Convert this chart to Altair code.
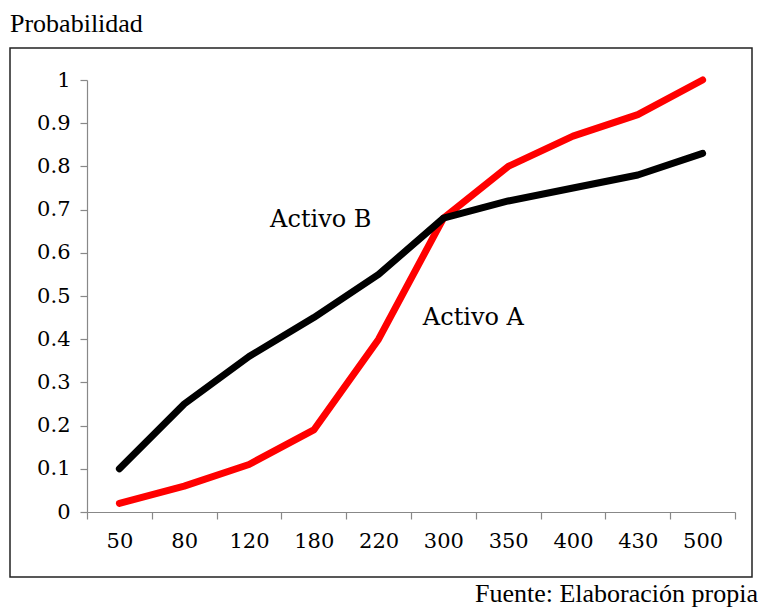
import altair as alt
import pandas as pd

categories = ["50", "80", "120", "180", "220", "300", "350", "400", "430", "500"]
activo_a = [0.02, 0.06, 0.11, 0.19, 0.40, 0.68, 0.80, 0.87, 0.92, 1.00]
activo_b = [0.10, 0.25, 0.36, 0.45, 0.55, 0.68, 0.72, 0.75, 0.78, 0.83]

series_names = ["Activo A", "Activo B"]
series_colors = ["#ff0000", "#000000"]

rows = []
for c, a, b in zip(categories, activo_a, activo_b):
    rows.append({"x": c, "y": a, "serie": "Activo A"})
    rows.append({"x": c, "y": b, "serie": "Activo B"})
df = pd.DataFrame(rows)

FONT = "DejaVu Serif"
TFONT = "Liberation Serif"
W, H = 648, 432

xenc = alt.X("x:O", sort=categories,
             scale=alt.Scale(type="band", paddingInner=0, paddingOuter=0),
             axis=alt.Axis(title=None, tickBand="extent", labelAngle=0,
                           labelFontSize=21, labelFont=FONT, labelColor="#000",
                           domainColor="#888", tickColor="#888", tickSize=7,
                           labelPadding=11, domainWidth=1.2, tickWidth=1.2,
                           grid=False))
yenc = alt.Y("y:Q", scale=alt.Scale(domain=[0, 1], nice=False),
             axis=alt.Axis(title=None, values=[i / 10 for i in range(11)],
                           format="~g", labelFontSize=21, labelFont=FONT,
                           labelColor="#000", domainColor="#888", tickColor="#888",
                           tickSize=7, labelPadding=10, domainWidth=1.2,
                           tickWidth=1.2, grid=False))

lines = alt.Chart(df).mark_line(strokeWidth=7, strokeCap="round", strokeJoin="round").encode(
    x=xenc, y=yenc,
    color=alt.Color("serie:N", scale=alt.Scale(domain=series_names, range=series_colors),
                    legend=None),
    order=alt.Order("serie:N"),
)

ann_b = alt.Chart(pd.DataFrame([{"x": "180", "y": 0.676, "t": "Activo B"}])).mark_text(
    font=FONT, fontSize=24, color="#000", align="center", baseline="middle", dx=7
).encode(x=alt.X("x:O", sort=categories), y="y:Q", text="t:N")

ann_a = alt.Chart(pd.DataFrame([{"x": "300", "y": 0.449, "t": "Activo A"}])).mark_text(
    font=FONT, fontSize=24, color="#000", align="center", baseline="middle", dx=30
).encode(x=alt.X("x:O", sort=categories), y="y:Q", text="t:N")

frame = alt.Chart(pd.DataFrame({"a": [0]})).mark_rect(
    fill="transparent", stroke="#222", strokeWidth=1.5
).encode(x=alt.value(-77), x2=alt.value(665), y=alt.value(-32), y2=alt.value(497))

title_txt = alt.Chart(pd.DataFrame({"t": ["Probabilidad"]})).mark_text(
    font=TFONT, fontSize=26, align="left", baseline="alphabetic", color="#000"
).encode(x=alt.value(-77), y=alt.value(-48), text="t:N")

source_txt = alt.Chart(pd.DataFrame({"t": ["Fuente: Elaboración propia"]})).mark_text(
    font=TFONT, fontSize=26, align="right", baseline="alphabetic", color="#000"
).encode(x=alt.value(671), y=alt.value(522), text="t:N")

chart = alt.layer(frame, lines, ann_b, ann_a, title_txt, source_txt).properties(
    width=W, height=H,
    autosize=alt.AutoSizeParams(type="none"),
    padding={"left": 79, "top": 72, "right": 23, "bottom": 98},
    background="white",
).configure_view(stroke=None)

chart.save("out.html", embed_options={"renderer": "svg", "actions": False})
